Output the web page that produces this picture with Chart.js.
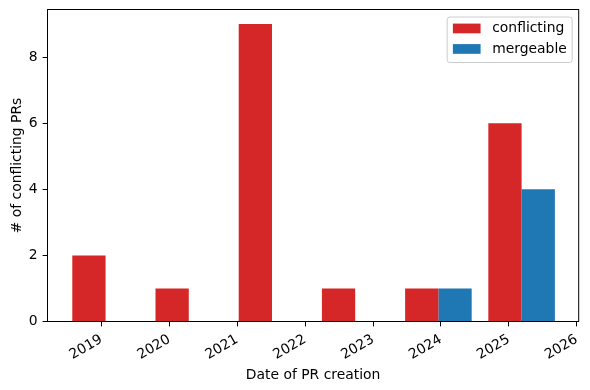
<!DOCTYPE html>
<html>
<head>
<meta charset="utf-8">
<script src="https://cdn.jsdelivr.net/npm/chart.js@4/dist/chart.umd.min.js"></script>
<style>
  html, body { margin: 0; padding: 0; background: #ffffff; }
  #wrap { width: 590px; height: 390px; }
</style>
</head>
<body>
<div id="wrap"><canvas id="c" width="590" height="390"></canvas></div>
<script>
// ---- data ----
const categories = ['2019', '2020', '2021', '2023', '2024', '2025'];
const conflicting = [2, 1, 9, 1, 1, 6];
const mergeable = [0, 0, 0, 0, 1, 4];
const yearTicks = [2019, 2020, 2021, 2022, 2023, 2024, 2025, 2026];
const seriesNames = ['conflicting', 'mergeable'];
const seriesColors = ['#d62728', '#1f77b4'];

const FONT = 'DejaVu Sans';
const FS = 13.9;

const framePlugin = {
  id: 'frame',
  afterDraw(chart) {
    const ctx = chart.ctx;
    const a = chart.chartArea;
    ctx.save();
    ctx.strokeStyle = '#000000';
    ctx.lineWidth = 1;
    ctx.strokeRect(a.left, a.top, a.right - a.left, a.bottom - a.top);

    // legend (upper right, matplotlib style)
    const ds = chart.data.datasets;
    const boxW = 125, boxH = 45.5;
    const bx = a.right - 6.5 - boxW, by = a.top + 7.5;
    const r = 2.8;
    ctx.beginPath();
    ctx.moveTo(bx + r, by);
    ctx.lineTo(bx + boxW - r, by);
    ctx.arcTo(bx + boxW, by, bx + boxW, by + r, r);
    ctx.lineTo(bx + boxW, by + boxH - r);
    ctx.arcTo(bx + boxW, by + boxH, bx + boxW - r, by + boxH, r);
    ctx.lineTo(bx + r, by + boxH);
    ctx.arcTo(bx, by + boxH, bx, by + boxH - r, r);
    ctx.lineTo(bx, by + r);
    ctx.arcTo(bx, by, bx + r, by, r);
    ctx.closePath();
    ctx.fillStyle = 'rgba(255,255,255,0.8)';
    ctx.fill();
    ctx.strokeStyle = '#cccccc';
    ctx.stroke();
    ctx.font = FS + 'px "' + FONT + '"';
    ctx.textBaseline = 'middle';
    ctx.textAlign = 'left';
    ds.forEach((d, i) => {
      const cy = by + 11.5 + i * 20.5;
      ctx.fillStyle = d.backgroundColor;
      ctx.fillRect(bx + 5.7, cy - 4.9, 27.7, 9.7);
      ctx.fillStyle = '#000000';
      ctx.fillText(d.label, bx + 45, cy);
    });
    ctx.restore();
  }
};

new Chart(document.getElementById('c'), {
  type: 'bar',
  data: {
    datasets: [
      {
        label: seriesNames[0],
        data: categories.map((c, i) => ({ x: i, y: conflicting[i] })),
        backgroundColor: seriesColors[0],
        borderWidth: 0,
        inflateAmount: 0,
        categoryPercentage: 0.8,
        barPercentage: 1.0,
        xAxisID: 'xi',
        yAxisID: 'y'
      },
      {
        label: seriesNames[1],
        data: categories.map((c, i) => ({ x: i, y: mergeable[i] })),
        backgroundColor: seriesColors[1],
        borderWidth: 0,
        inflateAmount: 0,
        categoryPercentage: 0.8,
        barPercentage: 1.0,
        xAxisID: 'xi',
        yAxisID: 'y'
      }
    ]
  },
  options: {
    responsive: false,
    animation: false,
    devicePixelRatio: 1,
    layout: { padding: { top: 9.5, right: 10.5, bottom: 0, left: 0 } },
    plugins: { legend: { display: false }, tooltip: { enabled: false } },
    scales: {
      xi: {
        type: 'linear',
        axis: 'x',
        position: 'bottom',
        display: false,
        offset: false,
        min: -0.698,
        max: 5.686,
        afterBuildTicks(s) { s.ticks = categories.map((c, i) => ({ value: i })); }
      },
      x: {
        type: 'linear',
        position: 'bottom',
        offset: false,
        min: 2018.206,
        max: 2026.029,
        afterFit(s) { s.height = 68.5; },
        afterBuildTicks(s) { s.ticks = yearTicks.map(v => ({ value: v })); },
        border: { display: false },
        grid: {
          display: true,
          drawOnChartArea: false,
          drawTicks: true,
          tickLength: 4.9,
          tickColor: '#000000',
          tickWidth: 1,
          offset: false
        },
        ticks: {
          autoSkip: false,
          includeBounds: false,
          minRotation: 30,
          maxRotation: 30,
          padding: 4.9,
          color: '#000000',
          font: { family: FONT, size: FS },
          callback: v => String(Math.round(v))
        },
        title: {
          display: true,
          text: 'Date of PR creation',
          color: '#000000',
          font: { family: FONT, size: FS },
          padding: { top: 0, bottom: 6 }
        }
      },
      y: {
        type: 'linear',
        position: 'left',
        min: 0,
        max: 9.44,
        afterFit(s) { s.width = 47.5; s.paddingTop = 0; s.paddingBottom = 0; },
        border: { display: false },
        grid: {
          display: true,
          drawOnChartArea: false,
          drawTicks: true,
          tickLength: 4.9,
          tickColor: '#000000',
          tickWidth: 1
        },
        ticks: {
          stepSize: 2,
          includeBounds: false,
          padding: 4.9,
          color: '#000000',
          font: { family: FONT, size: FS },
          callback: v => String(v)
        },
        title: {
          display: true,
          text: '# of conflicting PRs',
          color: '#000000',
          font: { family: FONT, size: FS },
          padding: { top: 9.0, bottom: 0 }
        }
      }
    }
  },
  plugins: [framePlugin]
});
</script>
</body>
</html>
